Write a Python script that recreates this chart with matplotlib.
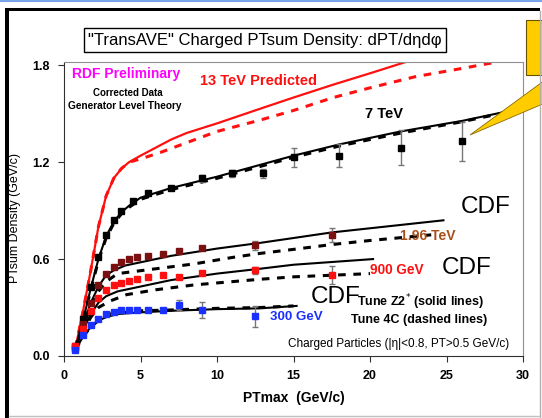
import matplotlib
matplotlib.use("Agg")
import matplotlib.pyplot as plt
from matplotlib.patches import Rectangle, Polygon
from matplotlib.lines import Line2D

plt.rcParams['font.family'] = ['Liberation Sans', 'DejaVu Sans']

# ---- measured points (PTmax in GeV/c, density in GeV/c) ----
x_7tev = [0.75, 1.25, 1.75, 2.25, 2.75, 3.25, 3.75, 4.5, 5.5, 7, 9, 11, 13, 15, 18, 22, 26]
y_7tev = [0.06, 0.23, 0.43, 0.61, 0.75, 0.84, 0.90, 0.96, 1.01, 1.04, 1.10, 1.13, 1.13, 1.23, 1.24, 1.29, 1.33]
e_7tev = [0, 0, 0, 0, 0, 0, 0, 0, 0, 0, 0.02, 0.02, 0.03, 0.06, 0.07, 0.11, 0.12]

x_196 = [0.75, 1.25, 1.75, 2.25, 2.75, 3.25, 3.75, 4.25, 4.75, 5.5, 6.5, 7.5, 9, 12.5, 17.5]
y_196 = [0.05, 0.20, 0.33, 0.44, 0.51, 0.55, 0.58, 0.60, 0.61, 0.62, 0.63, 0.65, 0.67, 0.685, 0.75]
e_196 = [0, 0, 0, 0, 0, 0, 0, 0, 0, 0, 0, 0, 0, 0.03, 0.045]

x_900 = [0.75, 1.25, 1.75, 2.25, 2.75, 3.25, 3.75, 4.25, 4.75, 5.5, 6.5, 7.5, 9, 12.5, 17.5]
y_900 = [0.06, 0.17, 0.28, 0.36, 0.41, 0.44, 0.455, 0.465, 0.475, 0.49, 0.50, 0.49, 0.515, 0.53, 0.50]
e_900 = [0, 0, 0, 0, 0, 0, 0, 0, 0, 0, 0, 0, 0, 0.02, 0.055]

x_300 = [0.75, 1.25, 1.75, 2.25, 2.75, 3.25, 3.75, 4.25, 4.75, 5.5, 6.5, 7.5, 9, 12.5]
y_300 = [0.037, 0.13, 0.19, 0.23, 0.26, 0.275, 0.285, 0.285, 0.285, 0.285, 0.285, 0.315, 0.285, 0.245]
e_300 = [0, 0, 0, 0, 0, 0, 0, 0, 0, 0, 0, 0.03, 0.05, 0.065]

# ---- generator curves: Tune Z2* (solid) and Tune 4C (dashed) ----
low_x = [0.75, 1.25, 1.75, 2.25, 2.75, 3.25, 3.75, 4.25]
low_13 = [0.05, 0.28, 0.53, 0.80, 0.99, 1.10, 1.16, 1.20]

x13_z2 = low_x + [5, 6, 7, 8, 10, 12.8, 15, 17.6, 20, 23, 30]
y13_z2 = low_13 + [1.24, 1.29, 1.34, 1.38, 1.44, 1.53, 1.60, 1.68, 1.75, 1.84, 2.03]
x13_4c = low_x + [5, 6.3, 8, 10, 12.8, 15, 17.6, 20, 23, 26, 30]
y13_4c = low_13 + [1.22, 1.26, 1.32, 1.39, 1.46, 1.52, 1.60, 1.66, 1.73, 1.78, 1.85]

x7_z2 = low_x + [5, 7, 10, 15, 18, 22, 26, 30]
y7_z2 = [0.05, 0.22, 0.42, 0.60, 0.74, 0.83, 0.89, 0.93,
         0.98, 1.04, 1.11, 1.24, 1.31, 1.39, 1.455, 1.535]
x7_4c = low_x + [5, 7, 10, 15, 18, 22, 26, 30]
y7_4c = [0.05, 0.22, 0.41, 0.59, 0.73, 0.82, 0.88, 0.92,
         0.97, 1.03, 1.10, 1.23, 1.30, 1.38, 1.45, 1.53]

x196_z2 = [0.75, 1.25, 1.75, 2.25, 2.75, 3.25, 4, 5, 7, 10, 12.8, 17.5, 24.8]
y196_z2 = [0.05, 0.19, 0.33, 0.43, 0.50, 0.53, 0.56, 0.58, 0.62, 0.665, 0.70, 0.765, 0.84]
x196_4c = [0.75, 1.25, 1.75, 2.25, 2.75, 3.5, 6, 8.5, 11, 12.8, 15, 17.5, 20, 24]
y196_4c = [0.05, 0.18, 0.31, 0.40, 0.46, 0.51, 0.54, 0.57, 0.61, 0.635, 0.66, 0.69, 0.715, 0.75]

x900_z2 = [0.75, 1.25, 1.75, 2.25, 2.75, 3.5, 5, 7, 10, 12.8, 15, 20.2]
y900_z2 = [0.05, 0.16, 0.26, 0.33, 0.37, 0.40, 0.43, 0.47, 0.51, 0.54, 0.565, 0.60]
x900_4c = [0.75, 1.25, 1.75, 2.25, 3, 4.1, 6, 8.5, 12.8, 15, 20]
y900_4c = [0.05, 0.15, 0.24, 0.30, 0.34, 0.38, 0.41, 0.44, 0.475, 0.49, 0.51]

x300_z2 = [0.75, 1.25, 1.75, 2.25, 2.75, 3.5, 5, 7, 10, 12.8, 15.2]
y300_z2 = [0.04, 0.12, 0.18, 0.22, 0.24, 0.26, 0.27, 0.28, 0.29, 0.295, 0.31]
x300_4c = [0.75, 1.25, 1.75, 2.25, 3, 5, 7, 10, 12.8, 15]
y300_4c = [0.04, 0.12, 0.18, 0.22, 0.26, 0.28, 0.285, 0.295, 0.30, 0.31]

x_ticks = [0, 5, 10, 15, 20, 25, 30]
y_ticks = [0.0, 0.6, 1.2, 1.8]

W, H = 542, 418


def px(x, y):
    return x / W, 1 - y / H


fig = plt.figure(figsize=(W / 100, H / 100), dpi=100)
ax = fig.add_axes([64 / W, 62 / H, (523 - 64) / W, (356 - 62) / H])
ax.set_xlim(0, 30)
ax.set_ylim(0, 1.82)

dash = (0, (2.5, 2.5))
RED, MAROON, BLUE = '#ff1010', '#7a1010', '#1a30ff'

# curves first, then points on top
ax.plot(x13_z2, y13_z2, color=RED, lw=1.6)
ax.plot(x13_4c, y13_4c, color=RED, lw=2.2, ls=dash)
for xs, ys, xd, yd in [(x7_z2, y7_z2, x7_4c, y7_4c),
                       (x196_z2, y196_z2, x196_4c, y196_4c),
                       (x900_z2, y900_z2, x900_4c, y900_4c),
                       (x300_z2, y300_z2, x300_4c, y300_4c)]:
    ax.plot(xs, ys, color='black', lw=1.5)
    ax.plot(xd, yd, color='black', lw=2.2, ls=dash)

for xs, ys, es, c in [(x_7tev, y_7tev, e_7tev, 'black'),
                      (x_196, y_196, e_196, MAROON),
                      (x_900, y_900, e_900, RED),
                      (x_300, y_300, e_300, BLUE)]:
    ax.errorbar(xs, ys, yerr=es, fmt='s', color=c, ms=5, mec=c,
                ecolor='#777777', elinewidth=1, capsize=2.5, capthick=1)

# frame and ticks
for s in ['top', 'right']:
    ax.spines[s].set_color('#909090')
for s in ['left', 'bottom']:
    ax.spines[s].set_color('#303030')
ax.set_xticks(x_ticks)
ax.set_yticks(y_ticks)
ax.set_yticklabels(['%.1f' % v for v in y_ticks])
ax.tick_params(direction='out', length=4, width=0.8, color='#303030',
               labelsize=9, pad=6)
for lab in ax.get_xticklabels() + ax.get_yticklabels():
    lab.set_fontweight('bold')

# annotations inside the axes
ax.text(0.5, 1.745, 'RDF Preliminary', color='#ff00ff', fontsize=10,
        fontweight='bold', va='center')
ax.text(4.2, 1.627, 'Corrected Data', fontsize=7, fontweight='bold',
        ha='center', va='center')
ax.text(4.0, 1.547, 'Generator Level Theory', fontsize=7.3, fontweight='bold',
        ha='center', va='center')
ax.text(8.9, 1.70, '13 TeV Predicted', color=RED, fontsize=10.5,
        fontweight='bold', va='center')
ax.text(19.7, 1.497, '7 TeV', fontsize=10.5, fontweight='bold', va='center')
ax.text(21.96, 0.745, '1.96 TeV', color='#a8501c', fontsize=10,
        fontweight='bold', va='center')
ax.text(20.0, 0.534, '900 GeV', color=RED, fontsize=9.8,
        fontweight='bold', va='center')
ax.text(13.46, 0.242, '300 GeV', color=BLUE, fontsize=9.6,
        fontweight='bold', va='center')
for cx, cy in [(25.95, 0.925), (24.7, 0.547), (16.1, 0.366)]:
    ax.text(cx, cy, 'CDF', fontsize=17.5, va='center')
ax.text(19.15, 0.33, r'Tune Z2$^{*}$ (solid lines)', fontsize=9,
        fontweight='bold', va='center')
ax.text(18.76, 0.224, 'Tune 4C (dashed lines)', fontsize=9,
        fontweight='bold', va='center')
ax.text(14.64, 0.075, 'Charged Particles (|η|<0.8, PT>0.5 GeV/c)',
        fontsize=8.5, va='center')

# axis titles
fig.text(*px(294, 398), 'PTmax  (GeV/c)', fontsize=10, fontweight='bold',
         ha='center', va='center')
fig.text(*px(15, 218), 'PTsum Density (GeV/c)', fontsize=9, rotation=90,
         ha='center', va='center')

# boxed heading
fig.text(*px(265, 40), '"TransAVE" Charged PTsum Density: dPT/dηdφ',
         fontsize=12, ha='center', va='center',
         bbox=dict(boxstyle='square,pad=0.25', fc='white', ec='black', lw=1))

# slide frame around the plot
fig.add_artist(Rectangle((0, 1 - 2 / H), 1, 2 / H, transform=fig.transFigure,
                         fc='#7aa4ea', ec='none'))
fig.add_artist(Rectangle((5 / W, 0), 4 / W, 1 - 8 / H, transform=fig.transFigure,
                         fc='black', ec='none'))
fig.add_artist(Rectangle((5 / W, 1 - 11 / H), 535 / W, 3 / H,
                         transform=fig.transFigure, fc='black', ec='none'))
fig.add_artist(Line2D([540 / W, 540 / W], [0, 1 - 11 / H],
                      transform=fig.transFigure, color='#b0b0b0', lw=1))
fig.add_artist(Line2D([9 / W, 540 / W], [2 / H, 2 / H],
                      transform=fig.transFigure, color='#c0c0c0', lw=1))

# yellow callout in the corner
fig.add_artist(Polygon([px(470, 135), px(545, 80), px(545, 103)], closed=True,
                       transform=fig.transFigure, fc='#ffcc00', ec='#8a6a00',
                       lw=0.6))
fig.add_artist(Rectangle(px(526, 75), 25 / W, 55 / H, transform=fig.transFigure,
                         fc='#ffcc00', ec='#6a5200', lw=0.8))

fig.savefig('out.png', dpi=100)
